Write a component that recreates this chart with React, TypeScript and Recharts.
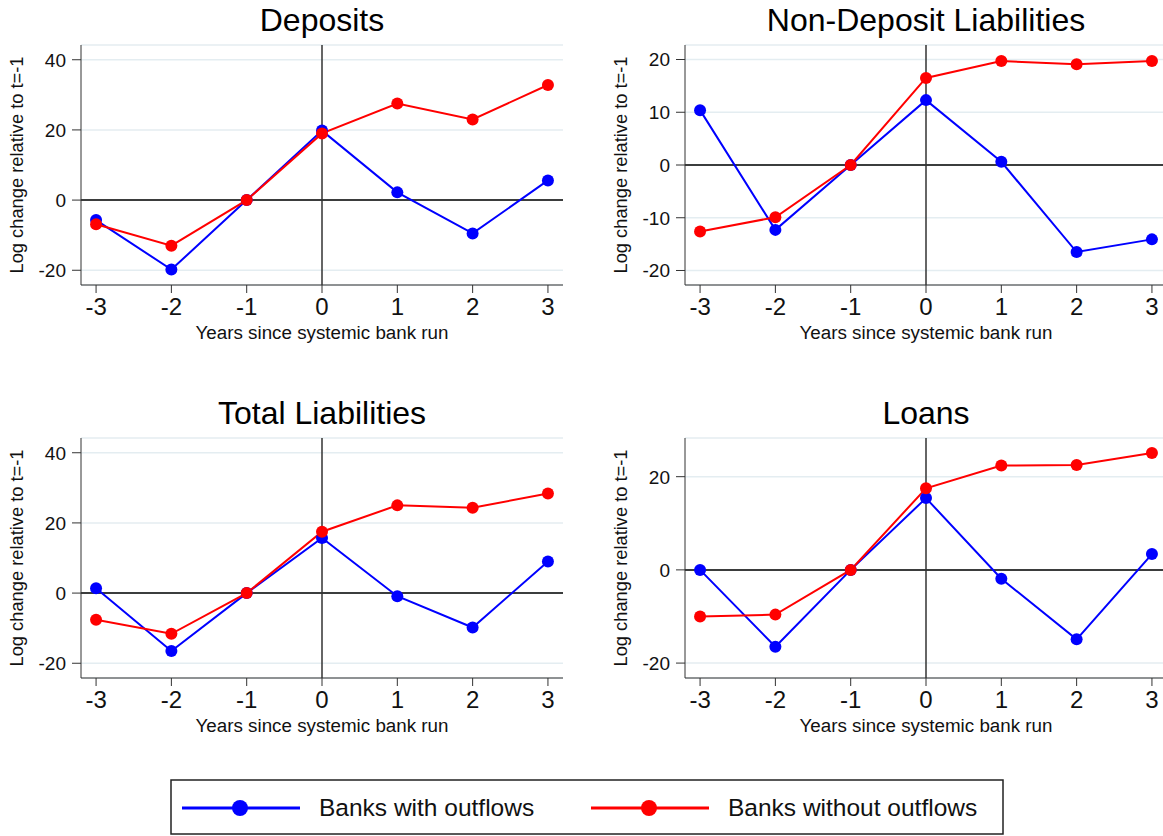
import { LineChart, Line, XAxis, YAxis, CartesianGrid, ReferenceLine } from 'recharts';

const YEARS = [-3, -2, -1, 0, 1, 2, 3];

const DEPOSITS_WITH = [-5.7, -19.8, 0, 19.8, 2.2, -9.5, 5.6];
const DEPOSITS_WITHOUT = [-6.9, -13.0, 0, 19.0, 27.5, 23.0, 32.8];

const NONDEP_WITH = [10.4, -12.3, 0, 12.3, 0.6, -16.5, -14.1];
const NONDEP_WITHOUT = [-12.6, -9.9, 0, 16.5, 19.7, 19.1, 19.7];

const TOTAL_WITH = [1.4, -16.5, 0, 15.7, -0.9, -9.8, 9.0];
const TOTAL_WITHOUT = [-7.6, -11.6, 0, 17.5, 25.0, 24.3, 28.4];

const LOANS_WITH = [0, -16.5, 0, 15.4, -1.9, -14.9, 3.4];
const LOANS_WITHOUT = [-10.0, -9.6, 0, 17.5, 22.4, 22.5, 25.1];

const SERIES_NAMES = ['Banks with outflows', 'Banks without outflows'];
const SERIES_COLORS = ['#0000ff', '#ff0000'];

const FONT = '"Liberation Sans", Arial, sans-serif';
const AXIS = '#333333';
const GRID = '#e4edf1';

const XTick = (props: any) => (
  <text x={props.x} y={props.y} dy="0.71em" textAnchor="middle" fontSize={24} fill="#111" fontFamily={FONT}>
    {props.payload.value}
  </text>
);

const YTick = (props: any) => (
  <text x={props.x} y={props.y} dy="0.36em" textAnchor="end" fontSize={19} fill="#111" fontFamily={FONT}>
    {props.payload.value}
  </text>
);

type PanelProps = {
  title: string;
  withOut: number[];
  without: number[];
  yDomain: [number, number];
  yTicks: number[];
  left: number;
  top: number;
};

function Panel({ title, withOut, without, yDomain, yTicks, left, top }: PanelProps) {
  const data = YEARS.map((t, i) => ({ t, a: withOut[i], b: without[i] }));
  return (
    <>
      <div
        style={{
          position: 'absolute',
          left: left + 81,
          top: top + 4,
          width: 482,
          textAlign: 'center',
          fontSize: 32,
          lineHeight: '32px',
          color: '#000',
        }}
      >
        {title}
      </div>
      <div style={{ position: 'absolute', left, top }}>
        <LineChart width={580} height={345} data={data} margin={{ top: 45, right: 17, bottom: 20, left: 0 }}>
          <CartesianGrid vertical={false} stroke={GRID} strokeWidth={1.5} />
          <XAxis
            dataKey="t"
            type="number"
            domain={[-3.2, 3.2]}
            ticks={YEARS}
            interval={0}
            height={40}
            stroke={AXIS}
            tickSize={8}
            tickMargin={5}
            tick={<XTick />}
            label={{ value: 'Years since systemic bank run', position: 'bottom', offset: 1, fontSize: 18.8, fill: '#111', fontFamily: FONT }}
          />
          <YAxis
            type="number"
            domain={yDomain}
            ticks={yTicks}
            interval={0}
            width={81}
            stroke={AXIS}
            tickSize={9}
            tickMargin={6}
            tick={<YTick />}
            label={{
              value: 'Log change relative to t=-1',
              angle: -90,
              position: 'insideLeft',
              offset: 17,
              fontSize: 18.3,
              fill: '#111',
              fontFamily: FONT,
              style: { textAnchor: 'middle' },
            }}
          />
          <ReferenceLine y={0} stroke="#000" strokeWidth={1.5} />
          <ReferenceLine x={0} stroke={AXIS} strokeWidth={1.5} />
          <Line
            dataKey="a"
            name={SERIES_NAMES[0]}
            stroke={SERIES_COLORS[0]}
            strokeWidth={2}
            dot={{ r: 6, fill: SERIES_COLORS[0], stroke: SERIES_COLORS[0], strokeWidth: 0 }}
            isAnimationActive={false}
          />
          <Line
            dataKey="b"
            name={SERIES_NAMES[1]}
            stroke={SERIES_COLORS[1]}
            strokeWidth={2}
            dot={{ r: 6, fill: SERIES_COLORS[1], stroke: SERIES_COLORS[1], strokeWidth: 0 }}
            isAnimationActive={false}
          />
        </LineChart>
      </div>
    </>
  );
}

function SharedLegend() {
  // two entries side by side inside a framed box
  const items = [
    { x: 12, name: SERIES_NAMES[0], color: SERIES_COLORS[0] },
    { x: 421, name: SERIES_NAMES[1], color: SERIES_COLORS[1] },
  ];
  return (
    <svg style={{ position: 'absolute', left: 170, top: 779 }} width={834} height={56}>
      <rect x={1} y={1} width={832} height={54} fill="#fff" stroke="#222" strokeWidth={1.5} />
      {items.map((it) => (
        <g key={it.name}>
          <line x1={it.x} x2={it.x + 118} y1={29} y2={29} stroke={it.color} strokeWidth={3} />
          <circle cx={it.x + 58} cy={29} r={8} fill={it.color} />
          <text x={it.x + 137} y={37} fontSize={24.5} fill="#111" fontFamily={FONT}>
            {it.name}
          </text>
        </g>
      ))}
    </svg>
  );
}

export default function App() {
  return (
    <div
      style={{
        position: 'absolute',
        left: 0,
        top: 0,
        width: 1163,
        height: 836,
        overflow: 'hidden',
        background: '#fff',
        fontFamily: FONT,
      }}
    >
      <Panel title="Deposits" withOut={DEPOSITS_WITH} without={DEPOSITS_WITHOUT} yDomain={[-24.2, 44.2]} yTicks={[-20, 0, 20, 40]} left={0} top={0} />
      <Panel title="Non-Deposit Liabilities" withOut={NONDEP_WITH} without={NONDEP_WITHOUT} yDomain={[-22.75, 22.75]} yTicks={[-20, -10, 0, 10, 20]} left={604} top={0} />
      <Panel title="Total Liabilities" withOut={TOTAL_WITH} without={TOTAL_WITHOUT} yDomain={[-24.2, 44.2]} yTicks={[-20, 0, 20, 40]} left={0} top={393} />
      <Panel title="Loans" withOut={LOANS_WITH} without={LOANS_WITHOUT} yDomain={[-23.2, 28.3]} yTicks={[-20, 0, 20]} left={604} top={393} />
      <SharedLegend />
    </div>
  );
}
